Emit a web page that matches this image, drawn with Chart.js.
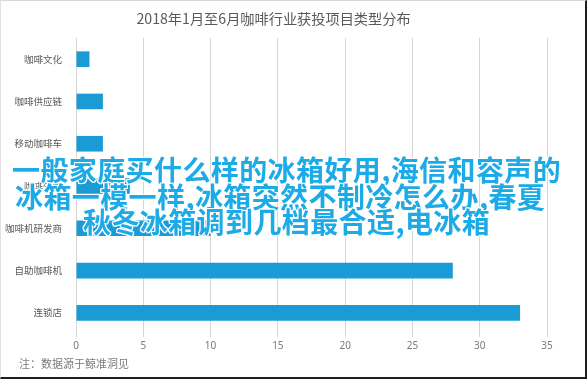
<!DOCTYPE html>
<html>
<head>
<meta charset="utf-8">
<script src="https://cdn.jsdelivr.net/npm/chart.js@4"></script>
<style>
  html, body { margin: 0; padding: 0; background: #fff; }
  #wrap { position: relative; width: 587px; height: 379px; overflow: hidden; }
  #frame { position: absolute; left: 0; top: 0; width: 584px; height: 376px;
    border-top: 1px solid #d8d8d8; border-left: 1px solid #e2e2e2;
    border-right: 2px solid #1e1e1e; border-bottom: 2px solid #1e1e1e; pointer-events: none; }
  #note { position: absolute; left: 19px; top: 355px; font: 11px "Noto Sans CJK SC", sans-serif; color: #7a7a7a; }
  .over { position: absolute; white-space: nowrap; font: bold 28px/1 "Noto Sans CJK SC", sans-serif;
    color: #1cabe6; letter-spacing: 0.4px;
    text-shadow: 1px 1px 0 #fff, -1px -1px 0 #fff, 1px -1px 0 #fff, -1px 1px 0 #fff, 0 1px 0 #fff, 0 -1px 0 #fff, 1px 0 0 #fff, -1px 0 0 #fff; }
</style>
</head>
<body>
<div id="wrap">
  <canvas id="chart" width="587" height="379"></canvas>
  <div id="note">注：数据源于鲸准洞见</div>
  <div class="over" style="left:12px; top:155px;">一般家庭买什么样的冰箱好用,海信和容声的</div>
  <div class="over" style="left:15px; top:182px;">冰箱一模一样,冰箱突然不制冷怎么办,春夏</div>
  <div class="over" style="left:83px; top:207px;">秋冬冰箱调到几档最合适,电冰箱</div>
  <div id="frame"></div>
</div>
<script>
const chartTitle = '2018年1月至6月咖啡行业获投项目类型分布';
const categories = ['咖啡文化', '咖啡供应链', '移动咖啡车', '咖啡外卖', '咖啡机研发商', '自助咖啡机', '连锁店'];
const projectCounts = [1, 2, 2, 4, 10, 28, 33];
const xTicks = [0, 5, 10, 15, 20, 25, 30, 35];

new Chart(document.getElementById('chart'), {
    type: 'bar',
    data: {
        labels: categories,
        datasets: [{
            data: projectCounts,
            backgroundColor: '#1b9bd5',
            categoryPercentage: 1,
            barPercentage: 0.37
        }]
    },
    options: {
        indexAxis: 'y',
        responsive: false,
        animation: false,
        layout: { padding: { top: 0, left: 0, right: 40, bottom: 30 } },
        plugins: {
            legend: { display: false },
            tooltip: { enabled: false },
            title: {
                display: true,
                text: chartTitle,
                color: '#595959',
                font: { family: 'Noto Sans CJK SC', size: 14.2, weight: 'normal', lineHeight: 1.2 },
                padding: { top: 10, bottom: 11 }
            }
        },
        scales: {
            x: {
                min: 0,
                max: 35,
                afterBuildTicks: s => { s.ticks = xTicks.map(v => ({ value: v })); },
                afterFit: s => { s.height = 15; },
                border: { display: false },
                grid: { color: '#d6d6d6', tickLength: 3, lineWidth: 1 },
                ticks: { color: '#7a7a7a', padding: 3, font: { family: 'Noto Sans', size: 10 } }
            },
            y: {
                afterFit: s => { s.width = 76; },
                border: { display: false },
                grid: { display: false },
                ticks: { color: '#595959', padding: 6, font: { family: 'Noto Sans CJK SC', size: 9.5 } }
            }
        }
    }
});
</script>
</body>
</html>
